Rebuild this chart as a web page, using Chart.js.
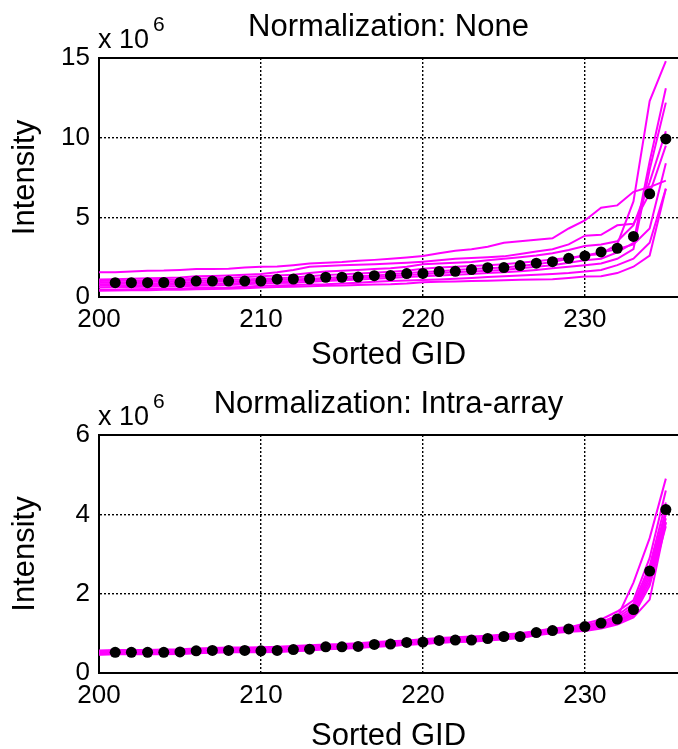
<!DOCTYPE html>
<html>
<head>
<meta charset="utf-8">
<script src="https://cdn.jsdelivr.net/npm/chart.js"></script>
<style>
  html, body { margin: 0; padding: 0; background: #fff; overflow: hidden; }
  canvas { display: block; }
</style>
</head>
<body>
<canvas id="chartNone" width="678" height="375"></canvas>
<canvas id="chartIntra" width="678" height="374"></canvas>
<script>
// Sorted GID positions (x), 200..235
const gid = [200, 201, 202, 203, 204, 205, 206, 207, 208, 209, 210, 211, 212, 213, 214, 215, 216, 217,
             218, 219, 220, 221, 222, 223, 224, 225, 226, 227, 228, 229, 230, 231, 232, 233, 234, 235];

// ---- Normalization: None (x 10^6) ----
const noneMean = [null, 0.9, 0.9, 0.9, 0.91, 0.91, 1.0, 1.0, 1.0, 1.0, 1.0, 1.12, 1.13, 1.13, 1.24, 1.24, 1.25, 1.34,
                  1.35, 1.47, 1.48, 1.6, 1.61, 1.72, 1.84, 1.85, 1.97, 2.12, 2.22, 2.43, 2.58, 2.83, 3.06, 3.8, 6.48, 9.92];
const noneArrays = [
  [1.55, 1.56, 1.6, 1.65, 1.66, 1.7, 1.75, 1.76, 1.78, 1.85, 1.9, 1.92, 2.0, 2.1, 2.15, 2.2, 2.28, 2.33,
   2.4, 2.48, 2.58, 2.75, 2.9, 3.0, 3.15, 3.4, 3.5, 3.6, 3.68, 4.3, 4.8, 5.6, 5.75, 6.6, 6.9, 7.3],
  [1.1, 1.12, 1.15, 1.18, 1.2, 1.22, 1.3, 1.32, 1.35, 1.4, 1.45, 1.55, 1.7, 1.9, 1.95, 2.0, 2.02, 2.05,
   2.1, 2.15, 2.22, 2.3, 2.4, 2.45, 2.5, 2.55, 2.7, 2.85, 3.0, 3.3, 3.85, 3.9, 4.5, 4.6, 6.5, 9.5],
  [1.0, 1.02, 1.04, 1.05, 1.08, 1.1, 1.15, 1.18, 1.2, 1.25, 1.3, 1.35, 1.4, 1.5, 1.6, 1.65, 1.7, 1.75,
   1.8, 1.9, 2.05, 2.1, 2.15, 2.2, 2.3, 2.4, 2.5, 2.6, 2.75, 2.95, 3.2, 3.3, 3.5, 4.5, 7.2, 10.4],
  [0.9, 0.92, 0.93, 0.95, 0.97, 1.0, 1.02, 1.05, 1.08, 1.1, 1.15, 1.18, 1.22, 1.3, 1.38, 1.42, 1.48, 1.52,
   1.58, 1.65, 1.78, 1.85, 1.9, 1.95, 2.0, 2.05, 2.15, 2.25, 2.35, 2.45, 2.6, 2.7, 3.3, 6.0, 12.3, 14.8],
  [0.8, 0.82, 0.84, 0.85, 0.86, 0.88, 0.9, 0.95, 0.98, 1.0, 1.05, 1.08, 1.1, 1.15, 1.2, 1.25, 1.3, 1.35,
   1.42, 1.5, 1.57, 1.62, 1.7, 1.75, 1.8, 1.85, 1.95, 2.05, 2.2, 2.4, 2.6, 2.8, 3.0, 3.3, 4.3, 8.4],
  [0.7, 0.72, 0.73, 0.75, 0.76, 0.78, 0.8, 0.82, 0.85, 0.9, 0.95, 0.98, 1.0, 1.05, 1.1, 1.15, 1.2, 1.25,
   1.3, 1.38, 1.43, 1.5, 1.55, 1.6, 1.65, 1.7, 1.8, 1.9, 2.0, 2.15, 2.3, 2.4, 2.8, 3.4, 8.5, 13.1],
  [0.6, 0.62, 0.63, 0.65, 0.66, 0.68, 0.7, 0.72, 0.75, 0.8, 0.85, 0.88, 0.9, 0.95, 1.0, 1.05, 1.1, 1.15,
   1.2, 1.25, 1.3, 1.35, 1.4, 1.45, 1.5, 1.55, 1.62, 1.7, 1.8, 1.9, 2.0, 2.1, 2.4, 3.0, 8.0, 12.2],
  [0.45, 0.47, 0.48, 0.5, 0.52, 0.54, 0.56, 0.58, 0.6, 0.65, 0.7, 0.72, 0.75, 0.78, 0.8, 0.85, 0.9, 0.95,
   1.0, 1.03, 1.07, 1.1, 1.15, 1.2, 1.25, 1.3, 1.35, 1.4, 1.45, 1.5, 1.6, 1.7, 2.0, 2.4, 3.4, 6.8],
  [0.4, 0.41, 0.42, 0.43, 0.45, 0.46, 0.48, 0.5, 0.52, 0.55, 0.6, 0.62, 0.65, 0.68, 0.7, 0.72, 0.75, 0.78,
   0.8, 0.85, 0.93, 0.95, 0.98, 1.0, 1.02, 1.05, 1.08, 1.1, 1.12, 1.2, 1.28, 1.3, 1.5, 1.9, 2.6, 6.8]
];

// ---- Normalization: Intra-array (x 10^6) ----
const intraMean = [null, 0.52, 0.52, 0.52, 0.52, 0.53, 0.56, 0.57, 0.57, 0.57, 0.56, 0.57, 0.59, 0.6, 0.66, 0.66, 0.67, 0.72,
                   0.73, 0.77, 0.78, 0.82, 0.83, 0.83, 0.87, 0.92, 0.92, 1.02, 1.07, 1.11, 1.17, 1.26, 1.36, 1.6, 2.57, 4.12];
const intraArrays = [
  [0.57, 0.58, 0.58, 0.58, 0.59, 0.6, 0.62, 0.63, 0.64, 0.64, 0.65, 0.66, 0.68, 0.7, 0.72, 0.73, 0.75, 0.78,
   0.8, 0.82, 0.85, 0.88, 0.9, 0.92, 0.94, 0.97, 1.0, 1.06, 1.12, 1.16, 1.2, 1.3, 1.4, 2.28, 3.4, 4.9],
  [0.55, 0.56, 0.56, 0.57, 0.57, 0.58, 0.59, 0.6, 0.61, 0.62, 0.62, 0.63, 0.65, 0.67, 0.7, 0.71, 0.73, 0.76,
   0.78, 0.81, 0.83, 0.86, 0.88, 0.89, 0.92, 0.95, 0.98, 1.05, 1.11, 1.15, 1.25, 1.35, 1.55, 1.83, 2.9, 4.6],
  [0.53, 0.54, 0.54, 0.54, 0.55, 0.56, 0.57, 0.58, 0.59, 0.59, 0.6, 0.61, 0.63, 0.65, 0.67, 0.68, 0.7, 0.73,
   0.75, 0.78, 0.8, 0.83, 0.85, 0.86, 0.89, 0.92, 0.95, 1.02, 1.08, 1.12, 1.18, 1.28, 1.45, 1.75, 2.7, 4.3],
  [0.52, 0.53, 0.53, 0.53, 0.53, 0.54, 0.56, 0.57, 0.58, 0.58, 0.58, 0.59, 0.61, 0.63, 0.66, 0.67, 0.69, 0.72,
   0.74, 0.77, 0.79, 0.82, 0.84, 0.85, 0.88, 0.91, 0.94, 1.01, 1.07, 1.11, 1.15, 1.25, 1.4, 1.67, 2.6, 4.1],
  [0.51, 0.52, 0.52, 0.52, 0.52, 0.53, 0.55, 0.56, 0.57, 0.57, 0.57, 0.58, 0.6, 0.62, 0.65, 0.66, 0.68, 0.71,
   0.73, 0.76, 0.78, 0.81, 0.83, 0.84, 0.87, 0.9, 0.93, 1.0, 1.06, 1.1, 1.14, 1.22, 1.35, 1.6, 2.5, 4.0],
  [0.5, 0.51, 0.51, 0.51, 0.51, 0.52, 0.54, 0.55, 0.56, 0.56, 0.56, 0.57, 0.59, 0.61, 0.64, 0.65, 0.67, 0.7,
   0.72, 0.75, 0.77, 0.8, 0.82, 0.83, 0.86, 0.89, 0.92, 0.99, 1.05, 1.09, 1.12, 1.2, 1.3, 1.55, 2.4, 3.9],
  [0.49, 0.5, 0.5, 0.5, 0.5, 0.51, 0.53, 0.54, 0.55, 0.55, 0.55, 0.56, 0.58, 0.6, 0.63, 0.64, 0.66, 0.69,
   0.71, 0.74, 0.76, 0.79, 0.81, 0.82, 0.85, 0.88, 0.91, 0.98, 1.04, 1.08, 1.1, 1.18, 1.28, 1.5, 2.3, 3.8],
  [0.47, 0.48, 0.48, 0.48, 0.48, 0.49, 0.51, 0.52, 0.53, 0.53, 0.53, 0.54, 0.56, 0.58, 0.61, 0.62, 0.64, 0.67,
   0.69, 0.72, 0.74, 0.77, 0.79, 0.8, 0.83, 0.86, 0.89, 0.96, 1.02, 1.06, 1.08, 1.15, 1.25, 1.45, 2.2, 3.7],
  [0.46, 0.47, 0.47, 0.47, 0.47, 0.48, 0.5, 0.51, 0.52, 0.52, 0.52, 0.53, 0.55, 0.57, 0.6, 0.61, 0.63, 0.66,
   0.68, 0.71, 0.73, 0.76, 0.78, 0.79, 0.82, 0.85, 0.88, 0.95, 1.0, 1.04, 1.06, 1.12, 1.22, 1.4, 1.85, 3.8]
];

const FONT = '"Liberation Sans", Arial, Helvetica, sans-serif';

// title over the plot, top frame line and "x 10^6" exponent label
const framePlugin = {
  id: 'frame',
  afterDraw(chart, args, opts) {
    const { ctx, chartArea: a } = chart;
    ctx.save();
    ctx.strokeStyle = '#000';
    ctx.lineWidth = 2;
    ctx.beginPath();
    ctx.moveTo(a.left, a.top);
    ctx.lineTo(a.right, a.top);
    ctx.stroke();

    ctx.fillStyle = '#000';
    ctx.textAlign = 'center';
    ctx.textBaseline = 'middle';
    ctx.font = '31px ' + FONT;
    ctx.fillText(opts.title, (a.left + a.right) / 2, a.top - 31);

    ctx.textAlign = 'left';
    ctx.textBaseline = 'alphabetic';
    ctx.font = '27px ' + FONT;
    ctx.fillText('x 10', a.left - 1, a.top - 10);
    const w = ctx.measureText('x 10').width;
    ctx.font = '21px ' + FONT;
    ctx.fillText('6', a.left + w + 3, a.top - 27);
    ctx.restore();
  }
};

function toPoints(values) {
  return values.map((v, i) => ({ x: gid[i], y: v }));
}

function makeChart(id, title, arrays, mean, yMax, yStep, plotTop, plotBottom, height, xTitlePad, xTitleLH) {
  const datasets = [];
  datasets.push({
    data: toPoints(mean),
    showLine: false,
    pointRadius: 5.5,
    pointBorderWidth: 0,
    pointBackgroundColor: '#000'
  });
  arrays.forEach(a => {
    datasets.push({
      data: toPoints(a),
      borderColor: '#ff00ff',
      borderWidth: 2,
      pointRadius: 0,
      tension: 0,
      fill: false
    });
  });

  new Chart(document.getElementById(id), {
    type: 'line',
    data: { datasets: datasets },
    options: {
      responsive: false,
      animation: false,
      layout: { autoPadding: false, padding: { top: plotTop, left: 0, right: 0, bottom: 0 } },
      plugins: {
        legend: { display: false },
        tooltip: { enabled: false },
        title: { display: false },
        frame: { title: title }
      },
      scales: {
        x: {
          type: 'linear',
          min: 200,
          max: 235.75,
          ticks: { stepSize: 10, includeBounds: false, color: '#000', font: { family: FONT, size: 26 }, padding: 7 },
          afterBuildTicks: s => {
            s.ticks = s.ticks.filter(t => Math.abs(t.value - Math.round(t.value / 10) * 10) < 1e-6);
          },
          afterFit: s => { s.height = height - plotBottom; },
          grid: { color: '#000', lineWidth: 1.4, drawTicks: false },
          border: { color: '#000', width: 2, dash: [2, 2] },
          title: {
            display: true,
            text: 'Sorted GID',
            color: '#000',
            font: { family: FONT, size: 31, lineHeight: xTitleLH },
            padding: { top: 0, bottom: xTitlePad }
          }
        },
        y: {
          min: 0,
          max: yMax,
          ticks: { stepSize: yStep, color: '#000', font: { family: FONT, size: 26 }, padding: 9 },
          afterFit: s => { s.width = 99; },
          grid: { color: '#000', lineWidth: 1.4, drawTicks: false },
          border: { color: '#000', width: 2, dash: [2, 2] },
          title: {
            display: true,
            text: 'Intensity',
            color: '#000',
            font: { family: FONT, size: 31, lineHeight: 1 },
            padding: { top: 10, bottom: 0 }
          }
        }
      }
    },
    plugins: [framePlugin]
  });
}

makeChart('chartNone', 'Normalization: None', noneArrays, noneMean, 15, 5, 58, 297, 375, 4, 1);
makeChart('chartIntra', 'Normalization: Intra-array', intraArrays, intraMean, 6, 2, 60, 298, 374, 2, 0.7);
</script>
</body>
</html>
